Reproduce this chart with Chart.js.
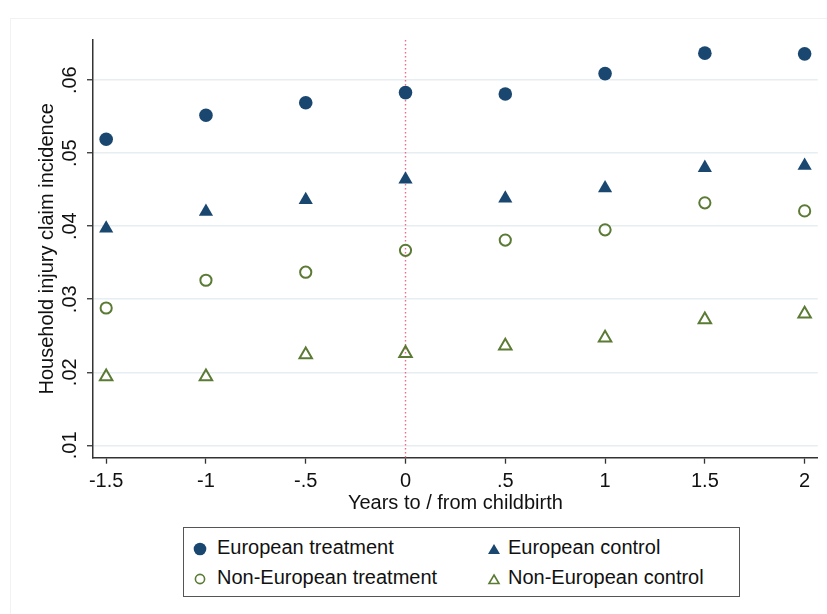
<!DOCTYPE html>
<html>
<head>
<meta charset="utf-8">
<title>Household injury claim incidence</title>
<script src="https://cdn.jsdelivr.net/npm/chart.js@4.4.1/dist/chart.umd.min.js"></script>
<style>
  html, body { margin: 0; padding: 0; background: #fff; }
  #wrap { position: relative; width: 827px; height: 614px; }
  #frame { position: absolute; left: 10px; top: 18px; right: 0; bottom: 0;
           border-left: 1px solid #f2f2f2; border-top: 1px solid #f2f2f2; }
  #chart { position: absolute; left: 0; top: 0; }
  #legend { position: absolute; left: 183px; top: 527px; width: 557px; height: 70px;
            box-sizing: border-box; border: 1px solid #555; background: #fff;
            font-family: "Liberation Sans", Arial, sans-serif; font-size: 20px; color: #111; }
  .mark { position: absolute; width: 16px; height: 16px; }
  .text { position: absolute; line-height: 22px; white-space: nowrap; }
</style>
</head>
<body>
<div id="wrap">
  <div id="frame"></div>
  <canvas id="chart" width="827" height="614"></canvas>
  <div id="legend"></div>
</div>
<script>
// Years relative to childbirth
const years = [-1.5, -1, -0.5, 0, 0.5, 1, 1.5, 2];

// Claim incidence by group
const euroTreatment = [0.0519, 0.0552, 0.0569, 0.0583, 0.0581, 0.0609, 0.0637, 0.0636];
const euroControl = [0.0397, 0.0420, 0.0436, 0.0464, 0.0438, 0.0452, 0.0480, 0.0483];
const nonEuroTreatment = [0.0288, 0.0326, 0.0337, 0.0367, 0.0381, 0.0395, 0.0432, 0.0421];
const nonEuroControl = [0.0194, 0.0194, 0.0224, 0.0226, 0.0236, 0.0247, 0.0272, 0.0280];

// Axis ticks
const xTicks = [-1.5, -1, -0.5, 0, 0.5, 1, 1.5, 2];
const xTickLabels = ['-1.5', '-1', '-.5', '0', '.5', '1', '1.5', '2'];
const yTicks = [0.01, 0.02, 0.03, 0.04, 0.05, 0.06];
const yTickLabels = ['.01', '.02', '.03', '.04', '.05', '.06'];

const NAVY = '#1a476f';
const GREEN = '#5b7b35';
const FONT = '"Liberation Sans", Arial, sans-serif';

function pts(ys) {
    return years.map((x, i) => ({ x: x, y: ys[i] }));
}

const series = [
    { label: 'European treatment', data: euroTreatment, style: 'circle', fill: true, radius: 6.8 },
    { label: 'European control', data: euroControl, style: 'triangle', fill: true, radius: 8.2 },
    { label: 'Non-European treatment', data: nonEuroTreatment, style: 'circle', fill: false, radius: 5.6 },
    { label: 'Non-European control', data: nonEuroControl, style: 'triangle', fill: false, radius: 7.2 }
];

// Dotted reference line at childbirth (x = 0)
const birthLine = {
    id: 'birthLine',
    beforeDatasetsDraw(chart) {
        const { ctx, chartArea, scales } = chart;
        const px = scales.x.getPixelForValue(0);
        ctx.save();
        ctx.strokeStyle = '#ee6a8c';
        ctx.lineWidth = 1.4;
        ctx.setLineDash([1.5, 2.5]);
        ctx.beginPath();
        ctx.moveTo(px, chartArea.top);
        ctx.lineTo(px, chartArea.bottom);
        ctx.stroke();
        ctx.restore();
    }
};

// Rotated y tick labels
const yLabels = {
    id: 'yLabels',
    afterDraw(chart) {
        const { ctx } = chart;
        const y = chart.scales.y;
        ctx.save();
        ctx.font = '20px ' + FONT;
        ctx.fillStyle = '#111';
        ctx.textAlign = 'center';
        ctx.textBaseline = 'middle';
        yTicks.forEach((v, i) => {
            const py = y.getPixelForValue(v);
            ctx.save();
            ctx.translate(y.right - 22.5, py);
            ctx.rotate(-Math.PI / 2);
            ctx.fillText(yTickLabels[i], 0, 0);
            ctx.restore();
        });
        ctx.restore();
    }
};

const ctx = document.getElementById('chart').getContext('2d');
const chart = new Chart(ctx, {
    type: 'scatter',
    data: {
        datasets: series.map(s => ({
            label: s.label,
            data: pts(s.data),
            pointStyle: s.style,
            pointRadius: s.radius,
            pointHoverRadius: s.radius,
            backgroundColor: s.fill ? NAVY : 'rgba(0,0,0,0)',
            borderColor: s.fill ? NAVY : GREEN,
            borderWidth: s.fill ? 0 : 2,
            showLine: false
        }))
    },
    options: {
        responsive: false,
        animation: false,
        events: [],
        layout: { padding: { left: 27, right: 6, top: 40, bottom: 99 } },
        plugins: {
            legend: { display: false },
            tooltip: { enabled: false }
        },
        scales: {
            x: {
                type: 'linear',
                min: -1.566,
                max: 2.066,
                afterBuildTicks: (scale) => { scale.ticks = xTicks.map(v => ({ value: v })); },
                afterFit: (scale) => { scale.height = 57.3; },
                ticks: {
                    color: '#111',
                    font: { family: FONT, size: 20 },
                    padding: 6,
                    maxRotation: 0,
                    callback: (v) => xTickLabels[xTicks.indexOf(v)]
                },
                grid: {
                    drawOnChartArea: false,
                    drawTicks: true,
                    tickLength: 6,
                    tickColor: '#333',
                    tickWidth: 1.3
                },
                border: { display: true, color: '#333', width: 1.5 },
                title: {
                    display: true,
                    text: 'Years to / from childbirth',
                    color: '#111',
                    font: { family: FONT, size: 20 },
                    padding: { top: 0, bottom: 0 }
                }
            },
            y: {
                type: 'linear',
                min: 0.0083,
                max: 0.0655,
                afterBuildTicks: (scale) => { scale.ticks = yTicks.map(v => ({ value: v })); },
                afterFit: (scale) => { scale.width = 66; },
                ticks: { display: false },
                grid: {
                    drawOnChartArea: true,
                    color: '#e6eef1',
                    lineWidth: 1.5,
                    drawTicks: true,
                    tickLength: 6,
                    tickColor: '#333',
                    tickWidth: 1.3
                },
                border: { display: true, color: '#333', width: 1.5 },
                title: {
                    display: true,
                    text: 'Household injury claim incidence',
                    color: '#111',
                    font: { family: FONT, size: 20 },
                    padding: { top: 8, bottom: 0 }
                }
            }
        }
    },
    plugins: [birthLine, yLabels]
});

// Boxed legend in two columns
function markerSvg(s) {
    const c = s.fill ? NAVY : GREEN;
    let shape;
    if (s.style === 'circle') {
        shape = s.fill
            ? `<circle cx="8" cy="8" r="6.3" fill="${c}"/>`
            : `<circle cx="8" cy="8" r="4.6" fill="none" stroke="${c}" stroke-width="1.6"/>`;
    } else {
        shape = s.fill
            ? `<polygon points="8,3 14,13 2,13" fill="${c}"/>`
            : `<polygon points="8,4 13,12.5 3,12.5" fill="none" stroke="${c}" stroke-width="1.6"/>`;
    }
    return `<svg width="16" height="16" viewBox="0 0 16 16">${shape}</svg>`;
}

const legendEl = document.getElementById('legend');
// [marker centre x, text left, row centre y] inside the box
const legendPos = [[16, 33, 19], [310, 324, 19], [16, 33, 49], [310, 324, 49]];
series.forEach((s, i) => {
    const [mx, tx, cy] = legendPos[i];
    const m = document.createElement('div');
    m.className = 'mark';
    m.style.left = (mx - 8) + 'px';
    m.style.top = (cy - 8) + 'px';
    m.innerHTML = markerSvg(s);
    const t = document.createElement('div');
    t.className = 'text';
    t.style.left = tx + 'px';
    t.style.top = (cy - 11) + 'px';
    t.textContent = s.label;
    legendEl.appendChild(m);
    legendEl.appendChild(t);
});
</script>
</body>
</html>
